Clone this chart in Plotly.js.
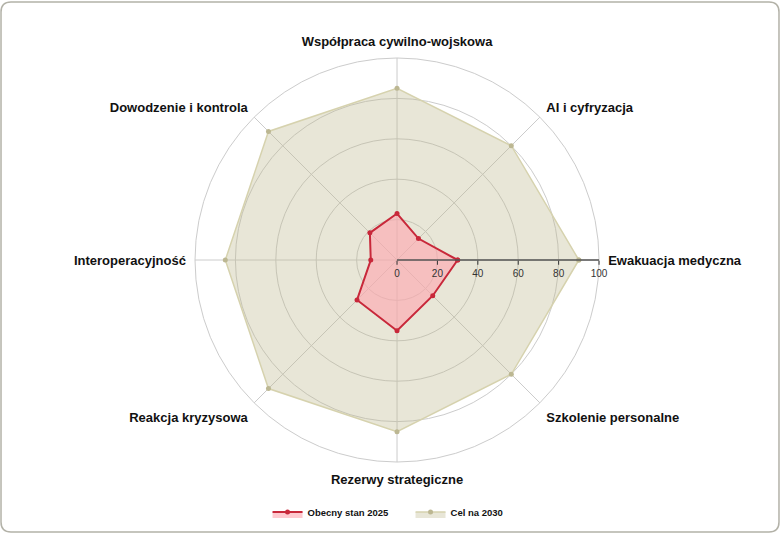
<!DOCTYPE html>
<html>
<head>
<meta charset="utf-8">
<script src="https://cdn.plot.ly/plotly-3.0.1.min.js"></script>
<style>
  html, body { margin: 0; padding: 0; background: #ffffff; }
  #chart { width: 780px; height: 534px; }
</style>
</head>
<body>
<div id="chart"></div>
<script>
// categories, counterclockwise from the east
const categories = [
    'Ewakuacja medyczna',
    'AI i cyfryzacja',
    'Współpraca cywilno-wojskowa',
    'Dowodzenie i kontrola',
    'Interoperacyjność',
    'Reakcja kryzysowa',
    'Rezerwy strategiczne',
    'Szkolenie personalne'
];
const current2025 = [30, 15, 23, 19, 13, 28, 35, 25];
const target2030 = [90, 80, 85, 90, 85, 90, 85, 80];
const radialTicks = [0, 20, 40, 60, 80, 100];

const FONT = '"Liberation Sans", Arial, sans-serif';

// repeat the first point so the outline closes
function closed(arr) {
    return arr.concat([arr[0]]);
}

const traceTarget = {
    type: 'scatterpolar',
    r: closed(target2030),
    theta: closed(categories),
    name: 'Cel na 2030',
    mode: 'lines+markers',
    fill: 'toself',
    fillcolor: 'rgba(189,183,140,0.35)',
    line: { color: '#d6d2ae', width: 1.5 },
    marker: { color: '#bcb792', size: 5 }
};

const traceCurrent = {
    type: 'scatterpolar',
    r: closed(current2025),
    theta: closed(categories),
    name: 'Obecny stan 2025',
    mode: 'lines+markers',
    fill: 'toself',
    fillcolor: 'rgba(255,165,175,0.6)',
    line: { color: '#c8283a', width: 2 },
    marker: { color: '#c8283a', size: 5 }
};

const layout = {
    width: 780,
    height: 534,
    margin: { t: 0, r: 0, b: 0, l: 0 },
    paper_bgcolor: '#ffffff',
    font: { family: FONT, color: '#111111' },
    showlegend: true,
    legend: {
        orientation: 'h',
        x: 0.343,
        xanchor: 'left',
        y: 0.041,
        yanchor: 'middle',
        traceorder: 'reversed',
        itemwidth: 30,
        entrywidth: 98,
        entrywidthmode: 'pixels',
        font: { family: FONT, size: 9.5, color: '#111111', weight: 'bold' }
    },
    polar: {
        domain: { x: [0.25, 0.768], y: [0.1348, 0.8914] },
        bgcolor: '#ffffff',
        angularaxis: {
            type: 'category',
            categoryarray: categories,
            direction: 'counterclockwise',
            rotation: 0,
            showline: true,
            linecolor: '#cccccc',
            linewidth: 1,
            gridcolor: '#cccccc',
            ticks: 'outside',
            ticklen: 6,
            tickcolor: 'rgba(0,0,0,0)',
            tickfont: { family: FONT, size: 13, color: '#111111', weight: 'bold' }
        },
        radialaxis: {
            range: [0, 100],
            angle: 0,
            tickangle: 0,
            tickvals: radialTicks,
            ticktext: radialTicks.map(String),
            ticks: 'outside',
            ticklen: 4,
            tickcolor: '#333333',
            showline: true,
            linecolor: '#555555',
            linewidth: 1.5,
            gridcolor: '#cccccc',
            tickfont: { family: FONT, size: 10, color: '#333333' }
        }
    },
    shapes: [{
        // rounded frame around the figure
        type: 'path',
        xref: 'paper',
        yref: 'paper',
        layer: 'above',
        path: 'M 0.0141,0.9963 L 0.9859,0.9963 Q 0.9987,0.9963 0.9987,0.9775 ' +
              'L 0.9987,0.0225 Q 0.9987,0.0037 0.9859,0.0037 L 0.0141,0.0037 ' +
              'Q 0.0013,0.0037 0.0013,0.0225 L 0.0013,0.9775 Q 0.0013,0.9963 0.0141,0.9963 Z',
        line: { color: '#b3b2a8', width: 1.5 }
    }]
};

Plotly.newPlot('chart', [traceTarget, traceCurrent], layout, { displayModeBar: false, staticPlot: true });
</script>
</body>
</html>
